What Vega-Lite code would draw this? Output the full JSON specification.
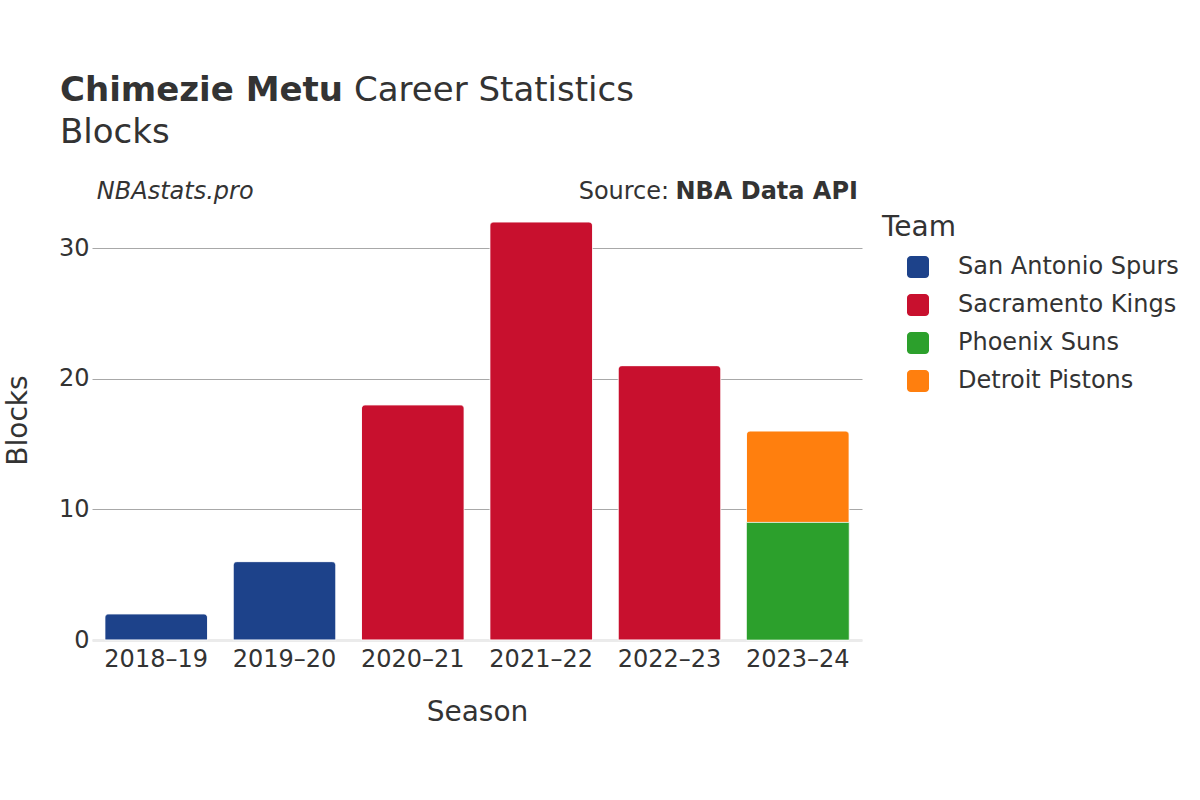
{
  "$schema": "https://vega.github.io/schema/vega-lite/v6.json",
  "width": 770,
  "height": 440,
  "autosize": {"type": "none"},
  "padding": {"left": 92, "top": 200, "right": 338, "bottom": 160},
  "background": "white",
  "config": {
    "view": {"stroke": null},
    "font": "DejaVu Sans",
    "axis": {"labelFont": "DejaVu Sans", "titleFont": "DejaVu Sans", "labelColor": "#333333", "titleColor": "#333333", "titleFontWeight": "normal"},
    "legend": {"labelFont": "DejaVu Sans", "titleFont": "DejaVu Sans"}
  },
  "layer": [
    {
      "data": {"values": [
        {"season": "2018–19", "team": "San Antonio Spurs", "blocks": 2},
        {"season": "2019–20", "team": "San Antonio Spurs", "blocks": 6},
        {"season": "2020–21", "team": "Sacramento Kings", "blocks": 18},
        {"season": "2021–22", "team": "Sacramento Kings", "blocks": 32},
        {"season": "2022–23", "team": "Sacramento Kings", "blocks": 21},
        {"season": "2023–24", "team": "Phoenix Suns", "blocks": 9},
        {"season": "2023–24", "team": "Detroit Pistons", "blocks": 7}
      ]},
      "layer": [
        {
          "mark": {"type": "bar", "cornerRadiusEnd": 4, "stroke": "white", "strokeWidth": 1, "strokeOpacity": 0.6},
          "encoding": {
            "x": {
              "field": "season", "type": "nominal", "sort": null,
              "scale": {"paddingInner": 0.2, "paddingOuter": 0.1},
              "axis": {"title": "Season", "titleFontSize": 28, "titlePadding": 27, "labelFontSize": 24, "labelAngle": 0, "labelPadding": 7, "ticks": false, "domain": true, "domainColor": "#ebebeb", "domainWidth": 3, "grid": false}
            },
            "y": {
              "field": "blocks", "type": "quantitative", "stack": "zero",
              "scale": {"domain": [0, 33.68], "nice": false},
              "axis": {"title": "Blocks", "titleFontSize": 28, "titlePadding": 26, "labelFontSize": 24, "labelPadding": 3, "ticks": false, "domain": false, "values": [0, 10, 20, 30], "gridColor": {"condition": {"test": "datum.value === 0", "value": "#ebebeb"}, "value": "#a8a8a8"}, "gridWidth": 1}
            },
            "color": {
              "field": "team", "type": "nominal",
              "scale": {"domain": ["San Antonio Spurs", "Sacramento Kings", "Phoenix Suns", "Detroit Pistons"], "range": ["#1d428a", "#c8102e", "#2ca02c", "#ff7f0e"]},
              "legend": {"title": "Team", "titleFontSize": 28, "titleFontWeight": "normal", "titleColor": "#333333", "titlePadding": 13, "labelFontSize": 24, "labelColor": "#333333", "labelLimit": 400, "symbolType": "M-0.65,-1H0.65A0.35,0.35,0,0,1,1,-0.65V0.65A0.35,0.35,0,0,1,0.65,1H-0.65A0.35,0.35,0,0,1,-1,0.65V-0.65A0.35,0.35,0,0,1,-0.65,-1Z", "symbolSize": 484, "symbolStrokeWidth": 0, "symbolOffset": 24, "labelOffset": 28, "rowPadding": 14, "padding": 14, "offset": 6}
            },
            "order": {"field": "team", "sort": "descending"}
          }
        },
        {
          "transform": [{"filter": "datum.team === 'Phoenix Suns'"}],
          "mark": {"type": "bar", "stroke": "white", "strokeWidth": 1, "strokeOpacity": 0.6},
          "encoding": {
            "x": {"field": "season", "type": "nominal", "sort": null},
            "y": {"field": "blocks", "type": "quantitative"},
            "color": {"field": "team", "type": "nominal"}
          }
        }
      ]
    },
    {
      "data": {"values": [{"label": "Chimezie Metu"}]},
      "mark": {"type": "text", "align": "left", "baseline": "alphabetic", "font": "DejaVu Sans", "fontSize": 34, "fontWeight": "bold", "color": "#333333", "dx": -44.8},
      "encoding": {
        "text": {"field": "label"},
        "x": {"datum": "2018–19", "type": "nominal", "bandPosition": 0},
        "y": {"datum": 41.26, "type": "quantitative"}
      }
    },
    {
      "data": {"values": [{"label": "Career Statistics"}]},
      "mark": {"type": "text", "align": "left", "baseline": "alphabetic", "font": "DejaVu Sans", "fontSize": 34, "color": "#333333", "dx": 249.2},
      "encoding": {
        "text": {"field": "label"},
        "x": {"datum": "2018–19", "type": "nominal", "bandPosition": 0},
        "y": {"datum": 41.26, "type": "quantitative"}
      }
    },
    {
      "data": {"values": [{"label": "Blocks"}]},
      "mark": {"type": "text", "align": "left", "baseline": "alphabetic", "font": "DejaVu Sans", "fontSize": 34, "color": "#333333", "dx": -44.8},
      "encoding": {
        "text": {"field": "label"},
        "x": {"datum": "2018–19", "type": "nominal", "bandPosition": 0},
        "y": {"datum": 38.04, "type": "quantitative"}
      }
    },
    {
      "data": {"values": [{"label": "NBAstats.pro"}]},
      "mark": {"type": "text", "align": "left", "baseline": "alphabetic", "font": "DejaVu Sans", "fontSize": 24, "fontStyle": "italic", "color": "#333333", "dx": -8},
      "encoding": {
        "text": {"field": "label"},
        "x": {"datum": "2018–19", "type": "nominal", "bandPosition": 0},
        "y": {"datum": 33.76, "type": "quantitative"}
      }
    },
    {
      "data": {"values": [{"label": "NBA Data API"}]},
      "mark": {"type": "text", "align": "right", "baseline": "alphabetic", "font": "DejaVu Sans", "fontSize": 24, "fontWeight": "bold", "color": "#333333", "dx": 8.8},
      "encoding": {
        "text": {"field": "label"},
        "x": {"datum": "2023–24", "type": "nominal", "bandPosition": 1},
        "y": {"datum": 33.76, "type": "quantitative"}
      }
    },
    {
      "data": {"values": [{"label": "Source:"}]},
      "mark": {"type": "text", "align": "right", "baseline": "alphabetic", "font": "DejaVu Sans", "fontSize": 24, "color": "#333333", "dx": -180},
      "encoding": {
        "text": {"field": "label"},
        "x": {"datum": "2023–24", "type": "nominal", "bandPosition": 1},
        "y": {"datum": 33.76, "type": "quantitative"}
      }
    }
  ]
}
